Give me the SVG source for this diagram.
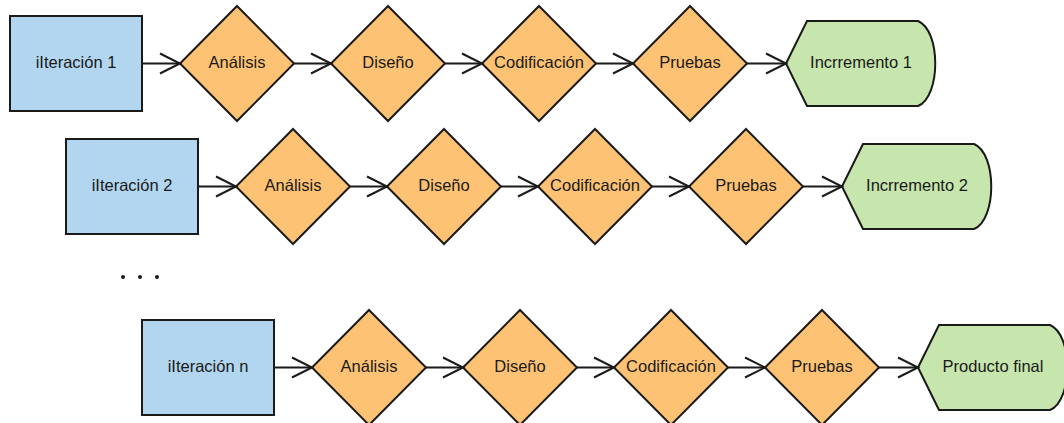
<svg xmlns="http://www.w3.org/2000/svg" xmlns:xlink="http://www.w3.org/1999/xlink" width="1064" height="423" viewBox="0 0 1064 423">
  <style>
    .box { fill: #b2d6ef; stroke: #1a1a1a; stroke-width: 2; }
    .dia { fill: #fdc274; stroke: #1a1a1a; stroke-width: 2; stroke-linejoin: miter; }
    .out { fill: #c6e6ad; stroke: #1a1a1a; stroke-width: 2; }
    .lbl { font-family: "Liberation Sans", Arial, sans-serif; font-size: 16.5px; fill: #1a1a1a; text-anchor: middle; }
    .conn { stroke: #1a1a1a; stroke-width: 2; fill: none; }
    .head { stroke: #1a1a1a; stroke-width: 2; fill: none; stroke-linejoin: miter; }
  </style>
  <defs>
    <path id="diamond" d="M0,-57.5 L57,0 L0,57.5 L-57,0 Z"/>
    <!-- display shape: pointed left end, bulging right end -->
    <path id="display" d="M0,0 L21,-42.5 L132,-42.5 C155,-33 155,33 132,42.5 L21,42.5 Z"/>
    <!-- open chevron arrowhead ending at the origin -->
    <path id="chev" d="M-20,-10 L0,0 L-20,10"/>
  </defs>
  <rect width="1064" height="423" fill="#ffffff"/>

  <!-- row 1 -->
  <g transform="translate(0,0)">
    <g id="iter1"><rect class="box" x="10" y="16" width="132" height="95"/><text class="lbl" x="76" y="67.5">iIteración 1</text></g>
    <g id="analisis1"><use href="#diamond" class="dia" transform="translate(237,63.5)"/><text class="lbl" x="237" y="67.5">Análisis</text></g>
    <g id="diseno1"><use href="#diamond" class="dia" transform="translate(388,63.5)"/><text class="lbl" x="388" y="67.5">Diseño</text></g>
    <g id="codif1"><use href="#diamond" class="dia" transform="translate(539,63.5)"/><text class="lbl" x="539" y="67.5">Codificación</text></g>
    <g id="pruebas1"><use href="#diamond" class="dia" transform="translate(690,63.5)"/><text class="lbl" x="690" y="67.5">Pruebas</text></g>
    <g id="incr1"><use href="#display" class="out" transform="translate(786,63.5)"/><text class="lbl" x="861" y="67.5">Incrremento 1</text></g>
    <g id="conn1">
      <path class="conn" d="M142,63.5 H180 M294,63.5 H331 M445,63.5 H482 M596,63.5 H633 M747,63.5 H786"/>
      <use href="#chev" class="head" transform="translate(180,63.5)"/>
      <use href="#chev" class="head" transform="translate(331,63.5)"/>
      <use href="#chev" class="head" transform="translate(482,63.5)"/>
      <use href="#chev" class="head" transform="translate(633,63.5)"/>
      <use href="#chev" class="head" transform="translate(786,63.5)"/>
    </g>
  </g>

  <!-- row 2 -->
  <g transform="translate(56,123)">
    <g id="iter2"><rect class="box" x="10" y="16" width="132" height="95"/><text class="lbl" x="76" y="67.5">iIteración 2</text></g>
    <g id="analisis2"><use href="#diamond" class="dia" transform="translate(237,63.5)"/><text class="lbl" x="237" y="67.5">Análisis</text></g>
    <g id="diseno2"><use href="#diamond" class="dia" transform="translate(388,63.5)"/><text class="lbl" x="388" y="67.5">Diseño</text></g>
    <g id="codif2"><use href="#diamond" class="dia" transform="translate(539,63.5)"/><text class="lbl" x="539" y="67.5">Codificación</text></g>
    <g id="pruebas2"><use href="#diamond" class="dia" transform="translate(690,63.5)"/><text class="lbl" x="690" y="67.5">Pruebas</text></g>
    <g id="incr2"><use href="#display" class="out" transform="translate(786,63.5)"/><text class="lbl" x="861" y="67.5">Incrremento 2</text></g>
    <g id="conn2">
      <path class="conn" d="M142,63.5 H180 M294,63.5 H331 M445,63.5 H482 M596,63.5 H633 M747,63.5 H786"/>
      <use href="#chev" class="head" transform="translate(180,63.5)"/>
      <use href="#chev" class="head" transform="translate(331,63.5)"/>
      <use href="#chev" class="head" transform="translate(482,63.5)"/>
      <use href="#chev" class="head" transform="translate(633,63.5)"/>
      <use href="#chev" class="head" transform="translate(786,63.5)"/>
    </g>
  </g>

  <!-- ellipsis between rows -->
  <g id="dots" fill="#1a1a1a">
    <circle cx="123" cy="277" r="2"/>
    <circle cx="140" cy="277" r="2"/>
    <circle cx="157" cy="277" r="2"/>
  </g>

  <!-- row n -->
  <g transform="translate(132,304)">
    <g id="itern"><rect class="box" x="10" y="16" width="132" height="95"/><text class="lbl" x="76" y="67.5">iIteración n</text></g>
    <g id="analisisn"><use href="#diamond" class="dia" transform="translate(237,63.5)"/><text class="lbl" x="237" y="67.5">Análisis</text></g>
    <g id="disenon"><use href="#diamond" class="dia" transform="translate(388,63.5)"/><text class="lbl" x="388" y="67.5">Diseño</text></g>
    <g id="codifn"><use href="#diamond" class="dia" transform="translate(539,63.5)"/><text class="lbl" x="539" y="67.5">Codificación</text></g>
    <g id="pruebasn"><use href="#diamond" class="dia" transform="translate(690,63.5)"/><text class="lbl" x="690" y="67.5">Pruebas</text></g>
    <g id="final"><use href="#display" class="out" transform="translate(786,63.5)"/><text class="lbl" x="861" y="67.5">Producto final</text></g>
    <g id="connn">
      <path class="conn" d="M142,63.5 H180 M294,63.5 H331 M445,63.5 H482 M596,63.5 H633 M747,63.5 H786"/>
      <use href="#chev" class="head" transform="translate(180,63.5)"/>
      <use href="#chev" class="head" transform="translate(331,63.5)"/>
      <use href="#chev" class="head" transform="translate(482,63.5)"/>
      <use href="#chev" class="head" transform="translate(633,63.5)"/>
      <use href="#chev" class="head" transform="translate(786,63.5)"/>
    </g>
  </g>
</svg>
